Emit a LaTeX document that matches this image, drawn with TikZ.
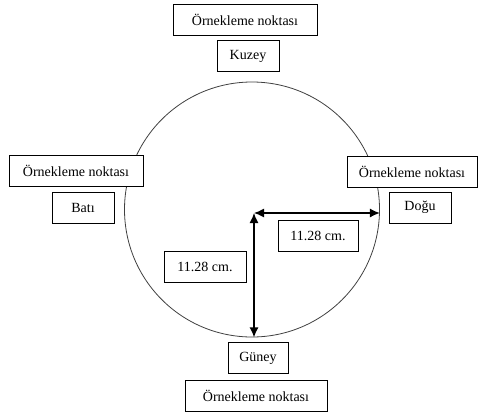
\documentclass[tikz,border=0pt]{standalone}
\usepackage{fontspec}
\setmainfont{Liberation Serif}
\usetikzlibrary{arrows.meta}

\tikzset{
	kutu/.style={draw, fill=white, line width=0.9pt, minimum height=31pt, inner sep=0pt,
		font=\fontsize{14}{16}\selectfont},
	olcu/.style={{Latex[length=10pt,width=9pt]}-{Latex[length=10pt,width=9pt]}, line width=1.3pt}
}

\begin{document}
\begin{tikzpicture}[x=1pt,y=-1pt]
	\useasboundingbox (0,0) rectangle (478,415);
	\node[draw, circle, minimum size=255pt, inner sep=0pt, line width=0.8pt, black!75] (daire) at (252,209.5) {};
				\node[kutu, minimum width=144pt] (kuzeyN) at (245,19.5) {Örnekleme noktası};
				\node[kutu, minimum width=62pt] (kuzey) at (248,56) {Kuzey};
				\node[kutu, minimum width=134pt] (batiN) at (76,170.5) {Örnekleme noktası};
				\node[kutu, minimum width=62pt] (bati) at (83,207.5) {Batı};
				\node[kutu, minimum width=130pt] (doguN) at (412,171.5) {Örnekleme noktası};
				\node[kutu, minimum width=62pt] (dogu) at (420,207.5) {Doğu};
				\node[kutu, minimum width=80pt] (yatay) at (318,236) {11.28 cm.};
				\node[kutu, minimum width=82pt] (dikey) at (205,266.5) {11.28 cm.};
				\node[kutu, minimum width=60pt] (guney) at (258,358) {Güney};
				\node[kutu, minimum width=142pt] (guneyN) at (256,396) {Örnekleme noktası};
				
				\coordinate (merkez) at (254,213);
				\draw[olcu] (merkez) -- (merkez -| daire.east);
				\draw[olcu] (merkez) -- (merkez |- daire.south);
\end{tikzpicture}
\end{document}
